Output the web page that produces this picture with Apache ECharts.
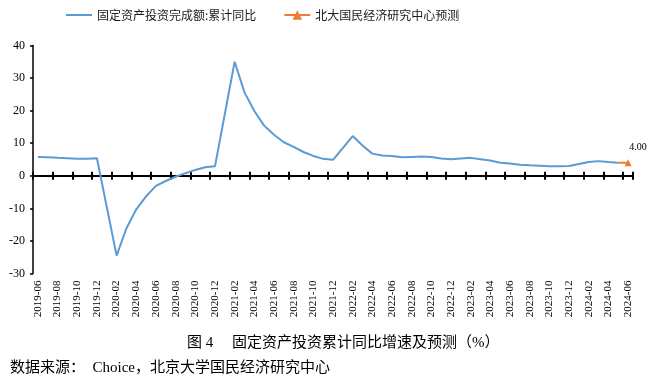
<!DOCTYPE html>
<html><head><meta charset="utf-8">
<script src="https://cdn.jsdelivr.net/npm/echarts@6/dist/echarts.min.js"></script>
<style>html,body{margin:0;padding:0;background:#fff}#c{width:654px;height:382px}</style>
</head><body><div id="c"></div>
<script>
const categories = [
 '2019-06','2019-07','2019-08','2019-09','2019-10','2019-11','2019-12',
 '2020-01','2020-02','2020-03','2020-04','2020-05','2020-06','2020-07','2020-08','2020-09','2020-10','2020-11','2020-12',
 '2021-01','2021-02','2021-03','2021-04','2021-05','2021-06','2021-07','2021-08','2021-09','2021-10','2021-11','2021-12',
 '2022-01','2022-02','2022-03','2022-04','2022-05','2022-06','2022-07','2022-08','2022-09','2022-10','2022-11','2022-12',
 '2023-01','2023-02','2023-03','2023-04','2023-05','2023-06','2023-07','2023-08','2023-09','2023-10','2023-11','2023-12',
 '2024-01','2024-02','2024-03','2024-04','2024-05','2024-06'
];
const actualValues = [
 5.8,5.7,5.5,5.4,5.2,5.2,5.4,
 null,-24.5,-16.1,-10.3,-6.3,-3.1,-1.6,-0.3,0.8,1.8,2.6,2.9,
 null,35.0,25.6,19.9,15.4,12.6,10.3,8.9,7.3,6.1,5.2,4.9,
 null,12.2,9.3,6.8,6.2,6.1,5.7,5.8,5.9,5.8,5.3,5.1,
 null,5.5,5.1,4.7,4.0,3.8,3.4,3.2,3.1,2.9,2.9,3.0,
 null,4.2,4.5,4.2,4.0,null
];
const forecastValues = {'2024-05': 4.0, '2024-06': 4.0};
const yTicks = {min: -30, max: 40, step: 10};
const seriesNames = ['固定资产投资完成额:累计同比', '北大国民经济研究中心预测'];
const captionText = '图 4\u3000 固定资产投资累计同比增速及预测（%）';
const sourceText = '数据来源：  Choice，北京大学国民经济研究中心';

const serif = "'Times New Roman','Liberation Serif','Noto Sans CJK SC'";
const forecastData = categories.map(function (c, i) {
  if (!(c in forecastValues)) return null;
  const isLast = i === categories.length - 1;
  return isLast ? {value: forecastValues[c], label: {show: true}} : {value: forecastValues[c], symbol: 'none'};
});

const chart = echarts.init(document.getElementById('c'), null, {renderer: 'canvas'});
const baseX = {type: 'category', data: categories, boundaryGap: true};
chart.setOption({
  animation: false,
  legend: {
    left: 65, top: 9, padding: 0, itemWidth: 26, itemHeight: 12, itemGap: 27,
    textStyle: {fontFamily: "'Noto Sans CJK SC'", fontSize: 12, color: '#1a1a1a'},
    data: [
      {name: seriesNames[0], itemStyle: {opacity: 0}},
      {name: seriesNames[1]}
    ]
  },
  grid: {left: 33, right: 21, top: 45.5, bottom: 108.5, containLabel: false},
  xAxis: [
    Object.assign({}, baseX, {
      position: 'bottom',
      axisLine: {show: false, onZero: false},
      axisTick: {show: false},
      axisLabel: {interval: 1, rotate: 90, margin: 7, fontFamily: serif, fontSize: 11, color: '#000'}
    }),
    Object.assign({}, baseX, {
      position: 'bottom',
      axisLine: {show: true, onZero: true, onZeroAxisIndex: 0, lineStyle: {color: '#000', width: 2}},
      axisTick: {show: true, inside: true, interval: 1, length: 4, lineStyle: {color: '#000', width: 2}},
      axisLabel: {show: false}
    }),
    Object.assign({}, baseX, {
      position: 'bottom',
      axisLine: {show: true, onZero: true, onZeroAxisIndex: 0, lineStyle: {color: '#000', width: 2}},
      axisTick: {show: true, inside: false, interval: 1, length: 4, lineStyle: {color: '#000', width: 2}},
      axisLabel: {show: false}
    })
  ],
  yAxis: {
    type: 'value', min: yTicks.min, max: yTicks.max, interval: yTicks.step,
    axisLine: {show: true, lineStyle: {color: '#000', width: 1.5}},
    axisTick: {show: true, length: 3, lineStyle: {color: '#000', width: 1.5}},
    axisLabel: {margin: 8, fontFamily: serif, fontSize: 12, color: '#000'},
    splitLine: {show: false}
  },
  series: [
    {
      name: seriesNames[0], type: 'line', xAxisIndex: 0, data: actualValues,
      connectNulls: true, symbol: 'none', showSymbol: false,
      lineStyle: {color: '#5B9BD5', width: 2}, itemStyle: {color: '#5B9BD5'}, z: 3
    },
    {
      name: seriesNames[1], type: 'line', xAxisIndex: 0, data: forecastData,
      connectNulls: false, symbol: 'triangle', symbolSize: 7,
      lineStyle: {color: '#ED7D31', width: 2}, itemStyle: {color: '#ED7D31'},
      label: {show: false, position: 'top', offset: [10, -2], formatter: function (p) { return p.value.toFixed(2); },
        fontFamily: serif, fontSize: 10, color: '#000'},
      z: 4
    }
  ],
  graphic: [
    {type: 'text', left: 187, top: 336, style: {text: captionText, fontFamily: serif, fontSize: 15, fill: '#000'}},
    {type: 'text', left: 10, top: 361, style: {text: sourceText, fontFamily: serif, fontSize: 15, fill: '#000'}}
  ]
});
</script></body></html>
